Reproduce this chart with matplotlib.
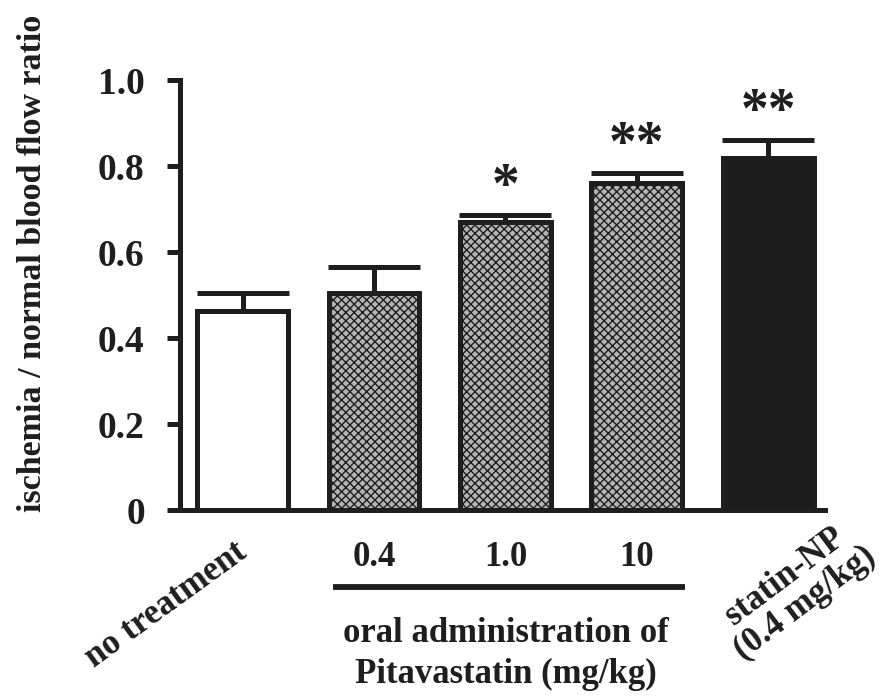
import matplotlib

matplotlib.use("Agg")
import matplotlib.pyplot as plt
import matplotlib.transforms as mtransforms

groups = ["no treatment", "0.4", "1.0", "10", "statin-NP\n(0.4 mg/kg)"]
means = [0.462, 0.504, 0.671, 0.760, 0.818]
sems = [0.043, 0.061, 0.015, 0.024, 0.042]
stars = ["", "", "*", "**", "**"]
yticks = [0, 0.2, 0.4, 0.6, 0.8, 1.0]
ytick_labels = ["0", "0.2", "0.4", "0.6", "0.8", "1.0"]

DARK = "#1e1e1e"
plt.rcParams["font.family"] = ["Liberation Serif", "DejaVu Serif"]
plt.rcParams["font.weight"] = "bold"
plt.rcParams["axes.labelweight"] = "bold"
plt.rcParams["hatch.linewidth"] = 1.0


def main() -> None:
    fig = plt.figure(figsize=(8.83, 6.96), dpi=100)
    ax = fig.add_axes([0.2039, 0.2672, 0.7305, 0.6178])

    x = list(range(len(means)))
    faces = ["white", "#b4b4b4", "#b4b4b4", "#b4b4b4", "#1c1c1c"]
    dots = "xxxx"
    hatches = [None, dots, dots, dots, None]
    bars = ax.bar(x, means, width=0.69, color=faces, edgecolor=DARK, linewidth=3.6, zorder=2)
    for b, h in zip(bars, hatches):
        if h:
            b.set_hatch(h)

    ax.errorbar(x, means, yerr=[[0] * len(sems), sems], fmt="none", ecolor=DARK,
                elinewidth=3.6, capsize=33, capthick=3.6, zorder=1)

    for xi, m, s, st in zip(x, means, sems, stars):
        if st:
            ax.text(xi, m + s + 0.063, st, ha="center", va="center", fontsize=40,
                    color=DARK)

    ax.set_xlim(-0.476, 4.433)
    ax.set_ylim(0, 1.0)
    ax.set_yticks(yticks, ytick_labels, fontsize=27, color=DARK)
    ax.tick_params(axis="y", length=9.4, width=3.6, pad=16, color=DARK)

    ax.set_xticks(x[1:4], groups[1:4], fontsize=25, color=DARK)
    ax.tick_params(axis="x", length=0, pad=22)

    for side in ["top", "right"]:
        ax.spines[side].set_visible(False)
    for side in ["left", "bottom"]:
        ax.spines[side].set_linewidth(3.6)
        ax.spines[side].set_color(DARK)

    ax.set_ylabel("ischemia / normal blood flow ratio", fontsize=24.5, color=DARK)
    ax.yaxis.set_label_coords(-0.205, 0.574)

    trans = mtransforms.blended_transform_factory(ax.transData, ax.transAxes)
    ax.text(-0.585, -0.22, groups[0], rotation=36, rotation_mode="anchor",
            ha="center", va="center", fontsize=25, color=DARK, transform=trans)
    ax.text(4.205, -0.186, groups[4], rotation=37, rotation_mode="anchor",
            ha="center", va="center", fontsize=25, color=DARK, transform=trans,
            linespacing=1.0)

    ax.plot([0.69, 3.37], [-0.18, -0.18], color=DARK, lw=4.2, transform=trans,
            clip_on=False, solid_capstyle="butt")
    ax.text(2.0, -0.335, "oral administration of\nPitavastatin (mg/kg)", ha="center",
            va="center", fontsize=25, color=DARK, transform=trans, linespacing=1.3)

    fig.savefig("out.png", dpi=100, facecolor="white")
    plt.close(fig)


if __name__ == "__main__":
    main()
